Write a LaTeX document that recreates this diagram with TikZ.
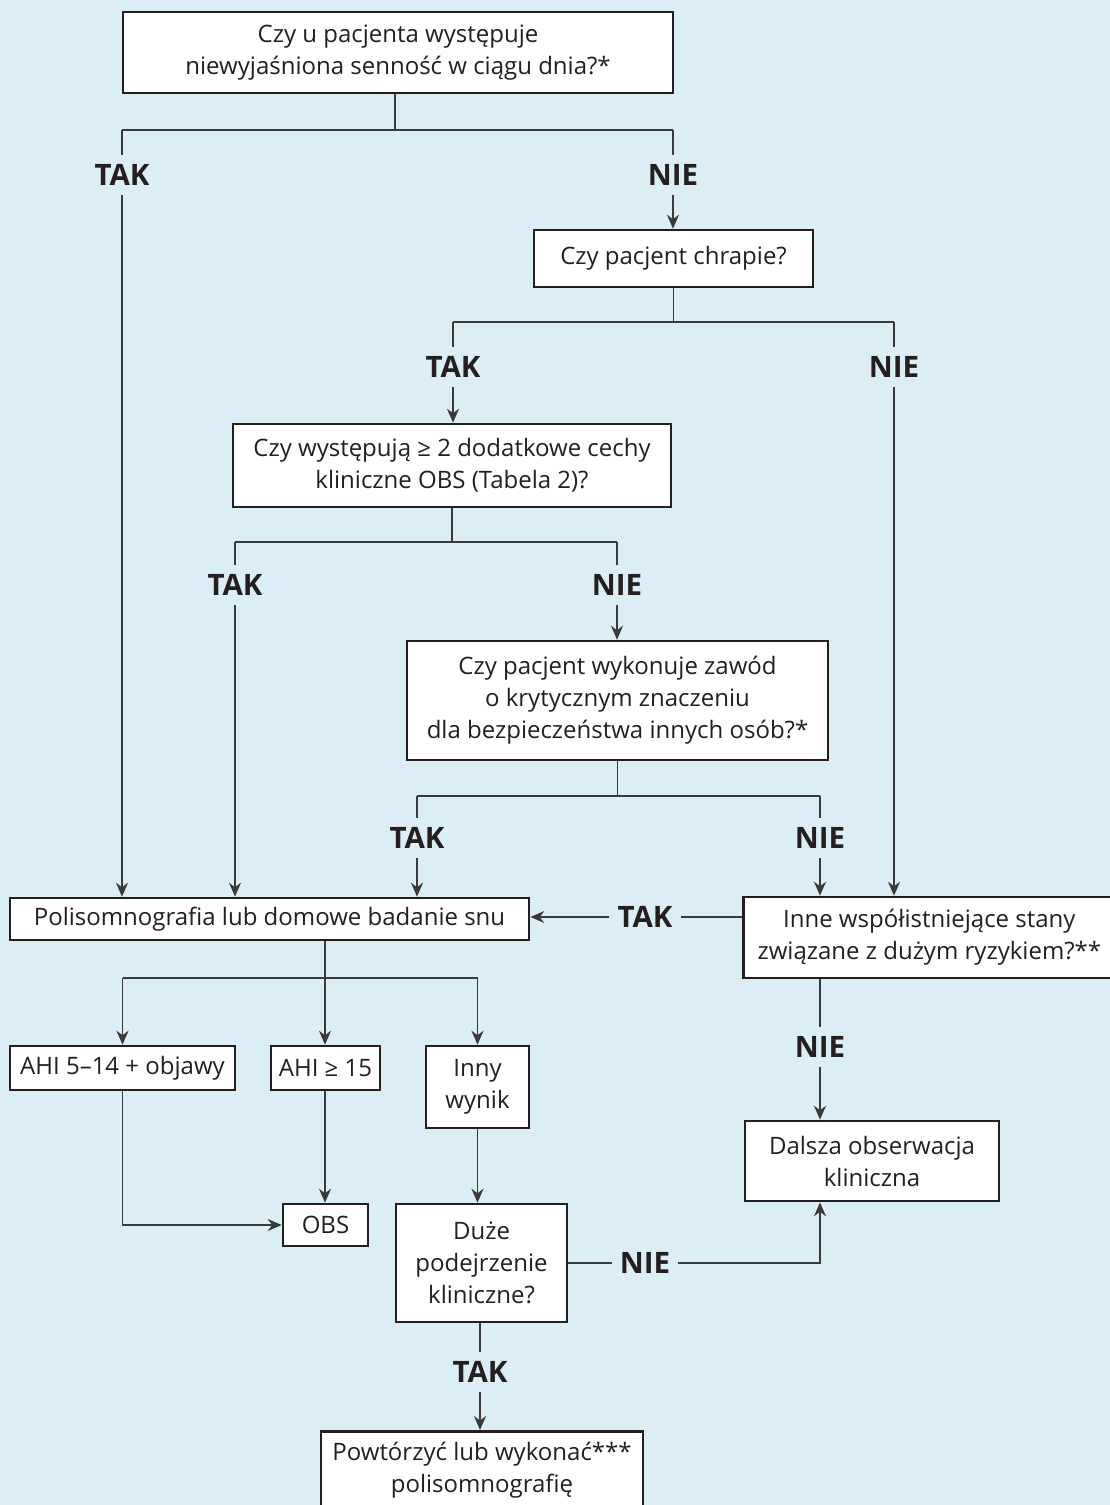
\documentclass[tikz,border=0pt]{standalone}
\usepackage{fontspec}
\setmainfont{Open Sans}
\usetikzlibrary{arrows.meta}
\definecolor{bg}{HTML}{DBEDF5}
\definecolor{ink}{HTML}{231F20}
\definecolor{ln}{HTML}{3A3A3A}
\begin{document}
\begin{tikzpicture}[x=1pt,y=-1pt,
  box/.style={draw=ink,line width=2.6pt,fill=white,text=ink,
    font=\fontsize{24}{32}\selectfont,align=center,inner sep=0pt},
  lab/.style={text=ink,font=\fontsize{29.5}{30}\selectfont\bfseries,
    inner xsep=8pt,inner ysep=9pt},
  conn/.style={draw=ln,line width=1.8pt},
  arr/.style={conn,-{Stealth[length=14pt,width=12pt]}}]
\fill[bg] (0,0) rectangle (1110,1505);
\useasboundingbox (0,0) rectangle (1110,1505);
\begin{scope}
\clip (0,0) rectangle (1110,1505);
% boxes
\node[box,minimum width=550,minimum height=81] (q1) at (398,52.5)
  {Czy u pacjenta występuje\\niewyjaśniona senność w ciągu dnia?*};
\node[box,minimum width=279,minimum height=57] (q2) at (673.5,258.5)
  {Czy pacjent chrapie?};
\node[box,minimum width=438,minimum height=83] (q3) at (452,465.5)
  {Czy występują ≥ 2 dodatkowe cechy\\kliniczne OBS (Tabela 2)?};
\node[box,minimum width=421,minimum height=119] (q4) at (617.5,700.5)
  {Czy pacjent wykonuje zawód\\o krytycznym znaczeniu\\dla bezpieczeństwa innych osób?*};
\node[box,minimum width=519,minimum height=42] (poli) at (269.5,919)
  {Polisomnografia lub domowe badanie snu};
\node[box,minimum width=372,minimum height=81,anchor=west] (inne) at (742,937.5)
  {Inne współistniejące stany\\związane z dużym ryzykiem?**};
\node[box,minimum width=225,minimum height=44] (ahi1) at (122.5,1068)
  {AHI 5–14 + objawy};
\node[box,minimum width=109,minimum height=44] (ahi2) at (325.5,1068)
  {AHI ≥ 15};
\node[box,minimum width=103,minimum height=82] (inny) at (477.5,1087)
  {Inny\\wynik};
\node[box,minimum width=85,minimum height=42] (obs) at (325.5,1225)
  {OBS};
\node[box,minimum width=171,minimum height=118] (duze) at (481.5,1263)
  {Duże\\podejrzenie\\kliniczne?};
\node[box,minimum width=254,minimum height=80] (dalsza) at (872,1161)
  {Dalsza obserwacja\\kliniczna};
\node[box,minimum width=322,minimum height=130,anchor=north] (powt) at (482,1430)
  {Powtórzyć lub wykonać***\\polisomnografię\\[26pt]};
% labels
\node[lab] (t1) at (122,175) {TAK};
\node[lab] (n1) at (673,175) {NIE};
\node[lab] (t2) at (453,367) {TAK};
\node[lab] (n2) at (894,367) {NIE};
\node[lab] (t3) at (235,585) {TAK};
\node[lab] (n3) at (617,585) {NIE};
\node[lab] (t4) at (417,838) {TAK};
\node[lab] (n4) at (820,838) {NIE};
\node[lab] (t5) at (645,917) {TAK};
\node[lab] (n5) at (820,1047) {NIE};
\node[lab] (n6) at (645,1263) {NIE};
\node[lab] (t6) at (480,1372) {TAK};
% split coordinates
\coordinate (s1) at (395,130);
\coordinate (s2) at (673.5,322);
\coordinate (s3) at (452,542);
\coordinate (s4) at (617.5,796);
\coordinate (s5) at (325,978);
% q1
\draw[conn] (s1 |- q1.south) -- (s1);
\draw[conn] (t1 |- s1) -- (n1 |- s1);
\draw[conn] (t1 |- s1) -- (t1);
\draw[conn] (n1 |- s1) -- (n1);
\draw[arr] (t1) -- (t1 |- poli.north);
\draw[arr] (n1) -- (n1 |- q2.north);
% q2
\draw[conn] (q2.south) -- (s2);
\draw[conn] (t2 |- s2) -- (n2 |- s2);
\draw[conn] (t2 |- s2) -- (t2);
\draw[conn] (n2 |- s2) -- (n2);
\draw[arr] (t2) -- (t2 |- q3.north);
\draw[arr] (n2) -- (n2 |- inne.north);
% q3
\draw[conn] (q3.south) -- (s3);
\draw[conn] (t3 |- s3) -- (n3 |- s3);
\draw[conn] (t3 |- s3) -- (t3);
\draw[conn] (n3 |- s3) -- (n3);
\draw[arr] (t3) -- (t3 |- poli.north);
\draw[arr] (n3) -- (n3 |- q4.north);
% q4
\draw[conn] (q4.south) -- (s4);
\draw[conn] (t4 |- s4) -- (n4 |- s4);
\draw[conn] (t4 |- s4) -- (t4);
\draw[conn] (n4 |- s4) -- (n4);
\draw[arr] (t4) -- (t4 |- poli.north);
\draw[arr] (n4) -- (n4 |- inne.north);
% inne
\draw[conn] (inne.west |- t5) -- (t5);
\draw[arr] (t5) -- (poli.east |- t5);
\draw[conn] (n5 |- inne.south) -- (n5);
\draw[arr] (n5) -- (n5 |- dalsza.north);
% poli
\draw[conn] (s5 |- poli.south) -- (s5);
\draw[conn] (ahi1.north |- s5) -- (inny.north |- s5);
\draw[arr] (ahi1.north |- s5) -- (ahi1.north);
\draw[arr] (s5) -- (s5 |- ahi2.north);
\draw[arr] (inny.north |- s5) -- (inny.north);
% results
\draw[arr] (ahi1.south) |- (obs.west);
\draw[arr] (s5 |- ahi2.south) -- (s5 |- obs.north);
\draw[arr] (inny.south) -- (inny.south |- duze.north);
% duze
\draw[conn] (duze.east |- n6) -- (n6);
\draw[arr] (n6) -| (n5 |- dalsza.south);
\draw[conn] (t6 |- duze.south) -- (t6);
\draw[arr] (t6) -- (t6 |- powt.north);
\end{scope}
\end{tikzpicture}
\end{document}
